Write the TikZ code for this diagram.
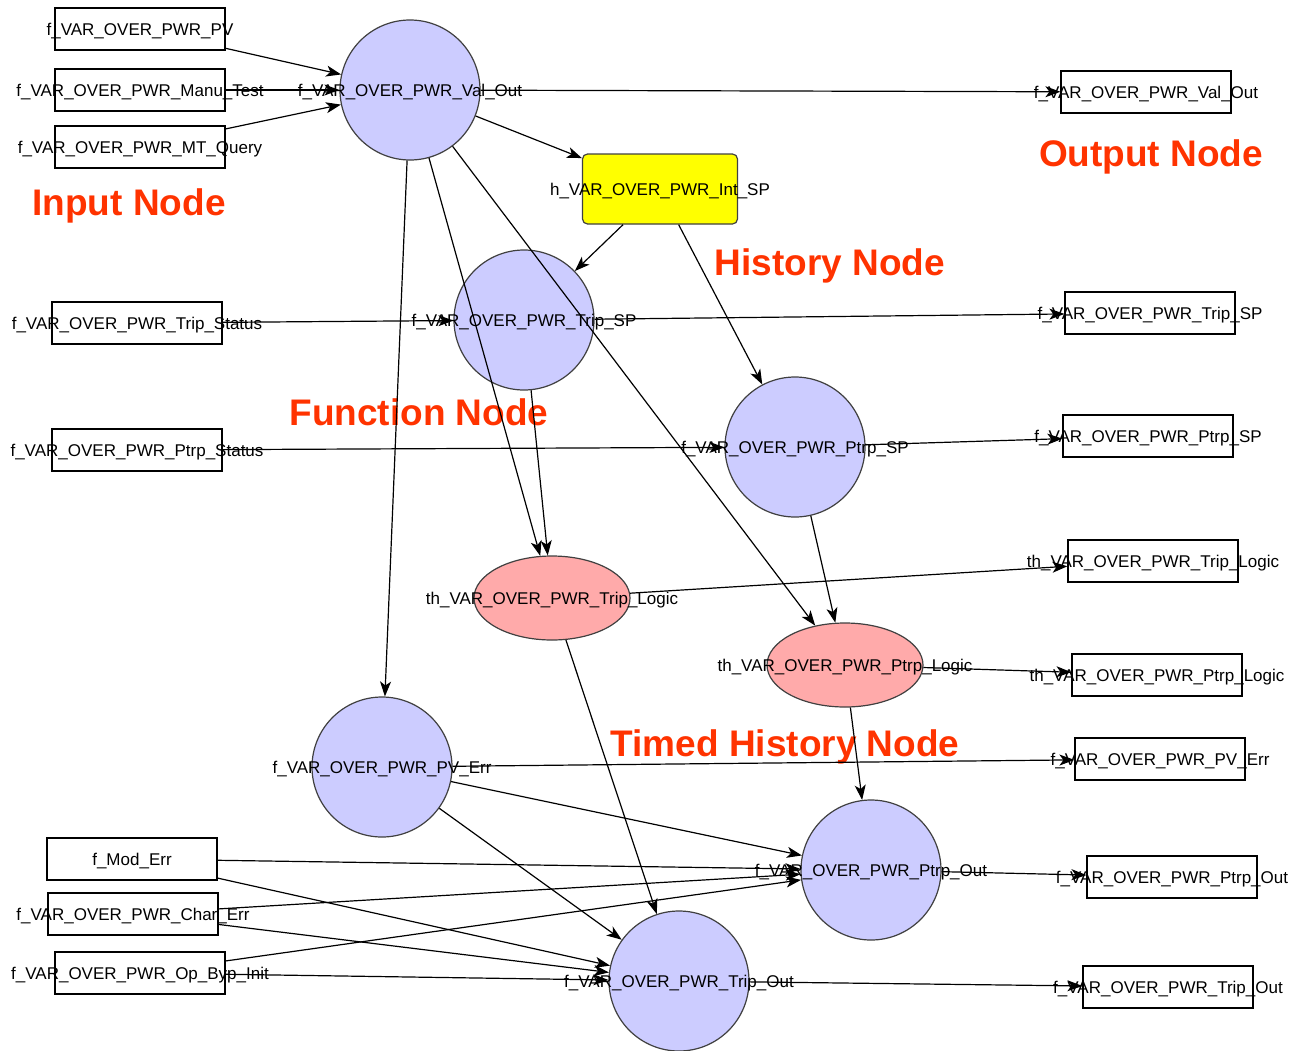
\documentclass[tikz,border=0pt]{standalone}
\usepackage{fontspec}
\setmainfont{Liberation Sans}
\usetikzlibrary{shapes.geometric,arrows.meta}
\definecolor{fnfill}{HTML}{CCCCFF}
\definecolor{thfill}{HTML}{FFAAAA}
\definecolor{hfill}{HTML}{FFFF00}
\definecolor{tagred}{HTML}{FF3300}
\definecolor{rim}{HTML}{404040}
% label text that may spill beyond its shape
\newcommand{\lab}[1]{\makebox[0pt]{#1}}
\tikzset{
  lbl/.style={font=\fontsize{17}{19}\selectfont, text height=13pt, text depth=0pt},
  iobox/.style={draw=black, line width=1.2pt, rectangle, minimum width=170pt, minimum height=42pt, inner sep=0pt, lbl},
  fnode/.style={draw=rim, fill=fnfill, circle, minimum size=140pt, inner sep=0pt, line width=1.2pt, lbl},
  thnode/.style={draw=rim, fill=thfill, ellipse, minimum width=156pt, minimum height=84pt, inner sep=0pt, line width=1.2pt, lbl},
  hnode/.style={draw=rim, fill=hfill, rectangle, rounded corners=5pt, minimum width=155pt, minimum height=70pt, inner sep=0pt, line width=1.2pt, lbl},
  tagtext/.style={text=tagred, font=\fontsize{37}{40}\selectfont\bfseries, anchor=base, inner sep=0pt},
  edge/.style={draw=black, line width=1.2pt, -{Stealth[length=15pt,width=11pt,inset=4pt]}},
}
\begin{document}
\begin{tikzpicture}[x=1pt,y=-1pt]
\useasboundingbox (0,0) rectangle (1292,1050);

% input nodes
\node[iobox] (inPV)    at (140,29)  {\lab{f\_VAR\_OVER\_PWR\_PV}};
\node[iobox] (inManu)  at (140,90)  {\lab{f\_VAR\_OVER\_PWR\_Manu\_Test}};
\node[iobox] (inMT)    at (140,147) {\lab{f\_VAR\_OVER\_PWR\_MT\_Query}};
\node[iobox] (inTrip)  at (137,323) {\lab{f\_VAR\_OVER\_PWR\_Trip\_Status}};
\node[iobox] (inPtrp)  at (137,450) {\lab{f\_VAR\_OVER\_PWR\_Ptrp\_Status}};
\node[iobox] (inMod)   at (132,859) {\lab{f\_Mod\_Err}};
\node[iobox] (inChar)  at (133,914) {\lab{f\_VAR\_OVER\_PWR\_Char\_Err}};
\node[iobox] (inByp)   at (140,973) {\lab{f\_VAR\_OVER\_PWR\_Op\_Byp\_Init}};

% function nodes
\node[fnode] (fVal)   at (410,90)  {\lab{f\_VAR\_OVER\_PWR\_Val\_Out}};
\node[fnode] (fTrip)  at (524,320) {\lab{f\_VAR\_OVER\_PWR\_Trip\_SP}};
\node[fnode] (fPtrp)  at (795,447) {\lab{f\_VAR\_OVER\_PWR\_Ptrp\_SP}};
\node[fnode] (fPV)    at (382,767) {\lab{f\_VAR\_OVER\_PWR\_PV\_Err}};
\node[fnode] (fPOut)  at (871,870) {\lab{f\_VAR\_OVER\_PWR\_Ptrp\_Out}};
\node[fnode] (fTOut)  at (679,981) {\lab{f\_VAR\_OVER\_PWR\_Trip\_Out}};

% history node
\node[hnode] (hInt) at (660,189) {\lab{h\_VAR\_OVER\_PWR\_Int\_SP}};

% timed history nodes
\node[thnode] (thTrip) at (552,598) {\lab{th\_VAR\_OVER\_PWR\_Trip\_Logic}};
\node[thnode] (thPtrp) at (845,665) {\lab{th\_VAR\_OVER\_PWR\_Ptrp\_Logic}};

% output nodes
\node[iobox] (oVal)    at (1146,92)  {\lab{f\_VAR\_OVER\_PWR\_Val\_Out}};
\node[iobox] (oTrip)   at (1150,313) {\lab{f\_VAR\_OVER\_PWR\_Trip\_SP}};
\node[iobox] (oPtrp)   at (1148,436) {\lab{f\_VAR\_OVER\_PWR\_Ptrp\_SP}};
\node[iobox] (oTLog)   at (1153,561) {\lab{th\_VAR\_OVER\_PWR\_Trip\_Logic}};
\node[iobox] (oPLog)   at (1157,675) {\lab{th\_VAR\_OVER\_PWR\_Ptrp\_Logic}};
\node[iobox] (oPV)     at (1160,759) {\lab{f\_VAR\_OVER\_PWR\_PV\_Err}};
\node[iobox] (oPOut)   at (1172,877) {\lab{f\_VAR\_OVER\_PWR\_Ptrp\_Out}};
\node[iobox] (oTOut)   at (1168,987) {\lab{f\_VAR\_OVER\_PWR\_Trip\_Out}};

% category captions
\node[tagtext] (tIn)   at (129,215) {Input Node};
\node[tagtext] (tOut)  at (1151,166) {Output Node};
\node[tagtext] (tHist) at (830,275) {History Node};
\node[tagtext] (tFun)  at (419,425) {Function Node};
\node[tagtext] (tTim)  at (785,756) {Timed History Node};

% connectors
\draw[edge] (inPV) -- (fVal);
\draw[edge] (inManu) -- (fVal);
\draw[edge] (inMT) -- (fVal);
\draw[edge] (fVal) -- (oVal);
\draw[edge] (fVal) -- (hInt);
\draw[edge] (hInt) -- (fTrip);
\draw[edge] (hInt) -- (fPtrp);
\draw[edge] (inTrip) -- (fTrip);
\draw[edge] (fTrip) -- (oTrip);
\draw[edge] (inPtrp) -- (fPtrp);
\draw[edge] (fPtrp) -- (oPtrp);
\draw[edge] (fVal) -- (thTrip);
\draw[edge] (fTrip) -- (thTrip);
\draw[edge] (fVal) -- (fPV);
\draw[edge] (fVal) -- (thPtrp);
\draw[edge] (fPtrp) -- (thPtrp);
\draw[edge] (thTrip) -- (oTLog);
\draw[edge] (thPtrp) -- (oPLog);
\draw[edge] (thTrip) -- (fTOut);
\draw[edge] (thPtrp) -- (fPOut);
\draw[edge] (fPV) -- (oPV);
\draw[edge] (fPV) -- (fPOut);
\draw[edge] (fPV) -- (fTOut);
\draw[edge] (inMod) -- (fPOut);
\draw[edge] (inMod) -- (fTOut);
\draw[edge] (inChar) -- (fPOut);
\draw[edge] (inChar) -- (fTOut);
\draw[edge] (inByp) -- (fPOut);
\draw[edge] (inByp) -- (fTOut);
\draw[edge] (fPOut) -- (oPOut);
\draw[edge] (fTOut) -- (oTOut);
\end{tikzpicture}
\end{document}
